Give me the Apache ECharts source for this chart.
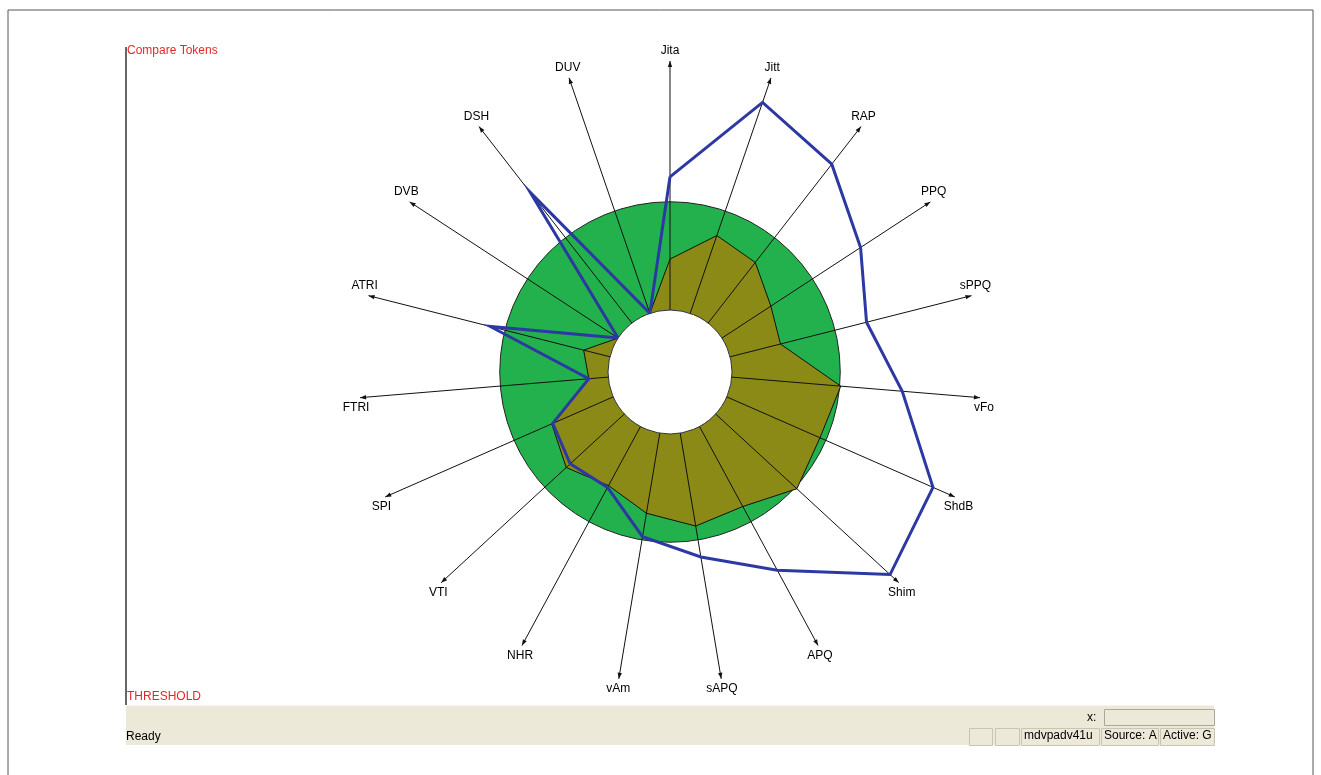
<!DOCTYPE html>
<html>
<head>
<meta charset="utf-8">
<title>MDVP radial graph</title>
<script src="https://cdn.jsdelivr.net/npm/echarts@6/dist/echarts.min.js"></script>
<style>
  html, body { margin: 0; padding: 0; background: #fff; }
  #chart { width: 1321px; height: 775px; }
</style>
</head>
<body>
<div id="chart"></div>
<script>
// MDVP parameters, clockwise from the top
const paramNames = ['Jita', 'Jitt', 'RAP', 'PPQ', 'sPPQ', 'vFo', 'ShdB', 'Shim', 'APQ', 'sAPQ',
  'vAm', 'NHR', 'VTI', 'SPI', 'FTRI', 'ATRI', 'DVB', 'DSH', 'DUV'];

// values scaled so that 0 = inner circle, 1 = threshold circle
const thresholdValue = 1;
const tokenA = [0.47, 0.76, 0.71, 0.54, 0.48, 1.01, 0.94, 1.02, 0.84, 0.87,
  0.75, 0.62, 0.73, 0.62, 0.18, 0.25, 0.0, 0.0, 0.0];
const tokenB = [1.23, 2.06, 1.86, 1.53, 1.30, 1.58, 2.08, 2.19, 1.51, 1.16,
  0.97, 0.64, 0.68, 0.61, 0.18, 1.14, 0.0, 1.53, 0.0];

// length of the drawn arrows, same units
const axisLength = 2.3;

const FONT = '"Liberation Sans", Arial, sans-serif';

// [radius, angleIndex] pairs, closed back to the first axis
const closedLoop = (values) =>
  values.map((v, i) => [v, i]).concat([[values[0], values.length]]);

// full circle at the radius of the given value
const circleItem = (fill, stroke) => (params, api) => {
  const cs = params.coordSys;
  const p = api.coord([api.value(0), 0]);
  return {
    type: 'circle',
    shape: { cx: cs.cx, cy: cs.cy, r: Math.hypot(p[0] - cs.cx, p[1] - cs.cy) },
    style: { fill, stroke, lineWidth: 1 },
  };
};

// radial arrow with its name
const axisItem = (params, api) => {
  const cs = params.coordSys;
  const idx = api.value(1);
  const from = api.coord([0, idx]);
  const tip = api.coord([api.value(0), idx]);
  const len = Math.hypot(tip[0] - from[0], tip[1] - from[1]);
  const dx = (tip[0] - from[0]) / len;
  const dy = (tip[1] - from[1]) / len;
  const back = [tip[0] - dx * 6, tip[1] - dy * 6];
  const upper = tip[1] < cs.cy;
  return {
    type: 'group',
    children: [
      {
        type: 'line',
        shape: { x1: from[0], y1: from[1], x2: tip[0], y2: tip[1] },
        style: { stroke: '#111', lineWidth: 1 },
      },
      {
        type: 'polygon',
        shape: { points: [tip, [back[0] - dy * 2.2, back[1] + dx * 2.2], [back[0] + dy * 2.2, back[1] - dx * 2.2]] },
        style: { fill: '#111' },
      },
      {
        type: 'text',
        x: tip[0] + dx * 4,
        y: tip[1] + (upper ? -10 : 10),
        style: {
          text: paramNames[idx],
          fill: '#000',
          font: `12px ${FONT}`,
          align: 'center',
          verticalAlign: 'middle',
        },
      },
    ],
  };
};

const chart = echarts.init(document.getElementById('chart'));

chart.setOption({
  animation: false,
  backgroundColor: '#fff',
  polar: { center: [670, 372], radius: [62, 311] },
  angleAxis: {
    type: 'value', min: 0, max: paramNames.length,
    startAngle: 90, clockwise: true, show: false,
  },
  radiusAxis: { type: 'value', min: 0, max: axisLength, show: false },
  series: [
    {
      name: 'threshold', type: 'custom', coordinateSystem: 'polar', z: 1,
      data: [[thresholdValue, 0]],
      renderItem: circleItem('#22b14c', '#222'),
    },
    {
      name: 'token A', type: 'line', coordinateSystem: 'polar', z: 2,
      data: closedLoop(tokenA), symbol: 'none', clip: false,
      lineStyle: { color: '#111', width: 1 },
      areaStyle: { color: '#8b8a16', opacity: 1 },
    },
    {
      name: 'hole', type: 'custom', coordinateSystem: 'polar', z: 3,
      data: [[0, 0]],
      renderItem: circleItem('#fff', '#333'),
    },
    {
      name: 'axes', type: 'custom', coordinateSystem: 'polar', z: 4,
      data: paramNames.map((n, i) => [axisLength, i]),
      renderItem: axisItem,
    },
    {
      name: 'token B', type: 'line', coordinateSystem: 'polar', z: 5,
      data: closedLoop(tokenB), symbol: 'none', clip: false,
      lineStyle: { color: '#2d39a3', width: 3, join: 'miter', miterLimit: 10 },
    },
  ],
  graphic: [
    // window frame
    { type: 'polyline', shape: { points: [[8, 800], [8, 10], [1313, 10], [1313, 800]] },
      style: { stroke: '#555', lineWidth: 1, fill: null }, silent: true },
    // plot left edge
    { type: 'line', shape: { x1: 126, y1: 47, x2: 126, y2: 705 },
      style: { stroke: '#666', lineWidth: 2 }, silent: true },
    { type: 'text', left: 127, top: 45,
      style: { text: 'Compare Tokens', fill: '#e8262a', font: `12px ${FONT}` } },
    { type: 'text', left: 127, top: 691,
      style: { text: 'THRESHOLD', fill: '#e8262a', font: `12px ${FONT}` } },
    // status bar
    { type: 'rect', shape: { x: 126, y: 705, width: 1088, height: 40 },
      style: { fill: '#ece9d8', stroke: null }, z: -1, silent: true },
    { type: 'line', shape: { x1: 126, y1: 705.5, x2: 1214, y2: 705.5 },
      style: { stroke: '#f7f5ee', lineWidth: 1 } },
    { type: 'text', left: 126, top: 731,
      style: { text: 'Ready', fill: '#000', font: `12px ${FONT}` } },
    { type: 'text', left: 1087, top: 712,
      style: { text: 'x:', fill: '#000', font: `12px ${FONT}` } },
    { type: 'rect', shape: { x: 1104.5, y: 709.5, width: 110, height: 16 },
      style: { fill: '#ece9d8', stroke: '#aca899', lineWidth: 1 } },
    { type: 'rect', shape: { x: 969.5, y: 728.5, width: 23, height: 17 },
      style: { fill: '#ece9d8', stroke: '#c9c5b3', lineWidth: 1 } },
    { type: 'rect', shape: { x: 995.5, y: 728.5, width: 24, height: 17 },
      style: { fill: '#ece9d8', stroke: '#c9c5b3', lineWidth: 1 } },
    { type: 'rect', shape: { x: 1021.5, y: 728.5, width: 78, height: 17 },
      style: { fill: '#ece9d8', stroke: '#c9c5b3', lineWidth: 1 } },
    { type: 'rect', shape: { x: 1101.5, y: 728.5, width: 57, height: 17 },
      style: { fill: '#ece9d8', stroke: '#c9c5b3', lineWidth: 1 } },
    { type: 'rect', shape: { x: 1160.5, y: 728.5, width: 54, height: 17 },
      style: { fill: '#ece9d8', stroke: '#c9c5b3', lineWidth: 1 } },
    { type: 'text', left: 1024, top: 730,
      style: { text: 'mdvpadv41us', fill: '#000', font: `12px ${FONT}`, width: 75, overflow: 'truncate', ellipsis: '' } },
    { type: 'text', left: 1104, top: 730,
      style: { text: 'Source: A', fill: '#000', font: `12px ${FONT}` } },
    { type: 'text', left: 1163, top: 730,
      style: { text: 'Active: G', fill: '#000', font: `12px ${FONT}` } },
  ],
});
</script>
</body>
</html>
